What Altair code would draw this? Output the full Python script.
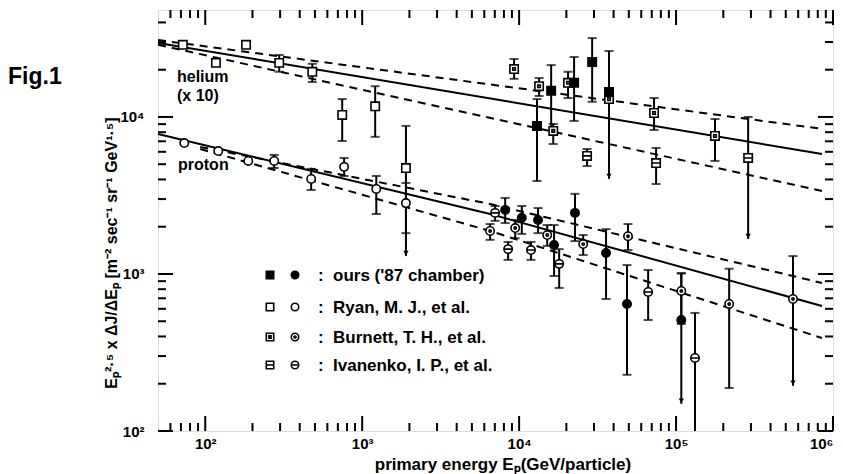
import altair as alt
import pandas as pd

# ---------------- data ----------------
# helium (x 10)
he_ryan_E = [72, 117, 182, 296, 481, 746, 1210, 1900]
he_ryan_y = [28800, 22100, 28800, 22100, 19400, 10300, 11700, 4730]
he_ryan_hi = [None, None, None, 24800, 21800, 13000, 15700, 8770]
he_ryan_lo = [None, None, None, 19400, 16700, 7030, 7470, 1300]
he_ryan_end = [0, 0, 0, 0, 0, 0, 0, 1]

he_ours_E = [13000, 16000, 22400, 29200, 37400]
he_ours_y = [8770, 14700, 16500, 22400, 14400]
he_ours_hi = [13000, 21400, 24100, 31800, 26300]
he_ours_lo = [3910, 8770, 9440, 12500, 13000]
he_ours_end = [0, 2, 0, 0, 2]

he_burn_E = [9290, 13400, 16500, 20500, 37400, 72400, 177000]
he_burn_y = [20200, 15700, 8150, 16500, 13000, 10600, 7570]
he_burn_hi = [23400, 17700, 9020, 19400, 13000, 13200, 9700]
he_burn_lo = [17500, 13600, 6730, 13200, 4030, 8270, 5250]
he_burn_end = [0, 0, 0, 0, 1, 0, 0]

he_ivan_E = [27100, 74600, 288000]
he_ivan_y = [5650, 5090, 5480]
he_ivan_hi = [6250, 6350, 10000]
he_ivan_lo = [4870, 3740, 1670]
he_ivan_end = [0, 0, 1]

# proton
p_ryan_E = [73.5, 121, 188, 275, 473, 767, 1230, 1900]
p_ryan_y = [6820, 6070, 5250, 5250, 4030, 4810, 3480, 2830]
p_ryan_hi = [None, None, None, 5730, 4670, 5480, 4210, 3800]
p_ryan_lo = [None, None, None, 4730, 3430, 4210, 2410, 1820]
p_ryan_end = [0, 0, 0, 0, 0, 0, 0, 0]

p_ours_E = [8150, 10400, 13200, 16700, 22700, 35800, 48700, 108000]
p_ours_y = [2560, 2280, 2210, 1530, 2450, 1360, 644, 509]
p_ours_hi = [3050, 2710, 2630, 2050, 3240, 1930, 1140, 1010]
p_ours_lo = [2110, 1800, 1820, 971, 1620, 693, 228, 149]
p_ours_end = [0, 0, 0, 0, 0, 0, 0, 1]

p_burn_E = [6530, 9440, 15100, 25600, 49400, 108000, 218000, 556000]
p_burn_y = [1880, 1960, 1770, 1550, 1740, 780, 644, 693]
p_burn_hi = [2080, 2210, 2050, 1770, 2080, 1010, 1080, 1300]
p_burn_lo = [1650, 1690, 1510, 1320, 1420, 481, 188, 194]
p_burn_end = [0, 0, 0, 0, 0, 0, 0, 1]

p_ivan_E = [7030, 8510, 11900, 18000, 66400, 132000]
p_ivan_y = [2450, 1440, 1420, 1160, 768, 292]
p_ivan_hi = [2710, 1600, 1600, 1440, 1060, 565]
p_ivan_lo = [2180, 1230, 1230, 815, 509, 100]
p_ivan_end = [0, 0, 0, 0, 0, 2]

# fitted spectra
he_line_E = [50, 851000]
he_fit = [29600, 5810]
he_up = [30900, 8400]
he_low = [28800, 3380]
p_line_E = [50, 6530, 851000]
p_fit = [7800, 2410, 625]
p_band_E = [93, 6530, 851000]
p_up = [6440, 2790, 877]
p_low = [6250, 1880, 391]

x_major = [100, 1000, 10000, 100000, 1000000]
y_major = [100, 1000, 10000]
legend_labels = ["ours ('87 chamber)", "Ryan, M. J., et al.",
                 "Burnett, T. H., et al.", "Ivanenko, I. P., et al."]

# ---------------- layout / style ----------------
W, H = 675, 421
FONT = "Liberation Sans"
SQ = "square"
CI = "circle"
SQ_DOT = "M-1,-1H1V1H-1Z M-0.3,-0.3H0.3V0.3H-0.3Z"
SQ_BAR = "M-1,-1H1V1H-1Z M-1,0H1"
CI_DOT = "M-1,0A1,1,0,1,1,1,0A1,1,0,1,1,-1,0Z M-0.28,0A0.28,0.28,0,1,1,0.28,0A0.28,0.28,0,1,1,-0.28,0Z"
CI_BAR = "M-1,0A1,1,0,1,1,1,0A1,1,0,1,1,-1,0Z M-1,0H1"

xs = alt.Scale(type="log", domain=[50, 1000000], nice=False)
ys = alt.Scale(type="log", domain=[100, 48000], nice=False)
sup = "['⁰','¹','²','³','⁴','⁵','⁶'][round(log(datum.value)/LN10)]"
X_AX = alt.Axis(values=x_major, labelExpr="'10' + " + sup, ticks=False, domain=False,
                grid=False, title=None, labelFlush=True, labelOverlap=False,
                labelPadding=5, labelFont=FONT, labelFontSize=15, labelFontWeight="bold",
                labelColor="black")
Y_AX = alt.Axis(values=y_major, labelExpr="'10' + " + sup, ticks=False, domain=False,
                grid=False, title=None, labelFlush=False, labelOverlap=False,
                labelPadding=14, labelFont=FONT, labelFontSize=15, labelFontWeight="bold",
                labelColor="black")

series = [
    ("he_ryan", he_ryan_E, he_ryan_y, he_ryan_hi, he_ryan_lo, he_ryan_end, SQ, "white"),
    ("he_burn", he_burn_E, he_burn_y, he_burn_hi, he_burn_lo, he_burn_end, SQ_DOT, "white"),
    ("he_ivan", he_ivan_E, he_ivan_y, he_ivan_hi, he_ivan_lo, he_ivan_end, SQ_BAR, "white"),
    ("he_ours", he_ours_E, he_ours_y, he_ours_hi, he_ours_lo, he_ours_end, SQ, "black"),
    ("p_ryan", p_ryan_E, p_ryan_y, p_ryan_hi, p_ryan_lo, p_ryan_end, CI, "white"),
    ("p_burn", p_burn_E, p_burn_y, p_burn_hi, p_burn_lo, p_burn_end, CI_DOT, "white"),
    ("p_ivan", p_ivan_E, p_ivan_y, p_ivan_hi, p_ivan_lo, p_ivan_end, CI_BAR, "white"),
    ("p_ours", p_ours_E, p_ours_y, p_ours_hi, p_ours_lo, p_ours_end, CI, "black"),
]

frames = []
for name, E, y, hi, lo, end, shp, fill in series:
    frames.append(pd.DataFrame({"s": name, "E": E, "y": y, "hi": hi, "lo": lo, "end": end}))
alld = pd.concat(frames, ignore_index=True)
err = alld.dropna(subset=["hi", "lo"]).copy()

X = lambda f: alt.X(f + ":Q", scale=xs, axis=X_AX)
Y = lambda f: alt.Y(f + ":Q", scale=ys, axis=Y_AX)

# fit lines
lines = pd.concat([
    pd.DataFrame({"g": "he_fit", "E": he_line_E, "v": he_fit, "d": "solid"}),
    pd.DataFrame({"g": "he_up", "E": he_line_E, "v": he_up, "d": "dash"}),
    pd.DataFrame({"g": "he_low", "E": he_line_E, "v": he_low, "d": "dash"}),
    pd.DataFrame({"g": "p_fit", "E": p_line_E, "v": p_fit, "d": "solid"}),
    pd.DataFrame({"g": "p_up", "E": p_band_E, "v": p_up, "d": "dash"}),
    pd.DataFrame({"g": "p_low", "E": p_band_E, "v": p_low, "d": "dash"}),
], ignore_index=True)

solid = alt.Chart(lines[lines.d == "solid"]).mark_line(color="black", strokeWidth=2).encode(
    x=X("E"), y=Y("v"), detail="g:N")
dashed = alt.Chart(lines[lines.d == "dash"]).mark_line(
    color="black", strokeWidth=2, strokeDash=[8, 6]).encode(x=X("E"), y=Y("v"), detail="g:N")

bars = alt.Chart(err).mark_rule(color="black", strokeWidth=2).encode(
    x=X("E"), y=Y("lo"), y2="hi:Q")
topcap = alt.Chart(err).mark_tick(orient="horizontal", color="black", size=9, thickness=2).encode(
    x=X("E"), y=Y("hi"))
botcap = alt.Chart(err[err.end == 0]).mark_tick(orient="horizontal", color="black", size=9,
                                               thickness=2).encode(x=X("E"), y=Y("lo"))
arrows = alt.Chart(err[err.end == 1]).mark_point(shape="triangle-down", filled=True, color="black",
                                                 size=28, opacity=1, yOffset=-3).encode(
    x=X("E"), y=Y("lo"))

pts = []
for name, E, y, hi, lo, end, shp, fill in series:
    pts.append(alt.Chart(alld[alld.s == name]).mark_point(
        shape=shp, size=70, fill=fill, stroke="black", strokeWidth=1.6, opacity=1,
        fillOpacity=1).encode(x=X("E"), y=Y("y")))

# inward ticks on all four sides
def minors(lo_exp, hi_exp, vmin, vmax):
    out = []
    for k in range(lo_exp, hi_exp + 1):
        for m in range(2, 10):
            v = m * 10 ** k
            if vmin < v < vmax:
                out.append(v)
    return out

x_minor = minors(1, 5, 50, 1000000)
y_minor = minors(2, 4, 100, 48000)
tick_layers = []
for vals, ln in ((x_major, 15), (x_minor, 8)):
    d = pd.DataFrame({"v": vals})
    tick_layers.append(alt.Chart(d).mark_rule(color="black", strokeWidth=2).encode(
        x=X("v"), y=alt.value(H), y2=alt.value(H - ln)))
    tick_layers.append(alt.Chart(d).mark_rule(color="black", strokeWidth=2).encode(
        x=X("v"), y=alt.value(0), y2=alt.value(ln)))
for vals, ln in ((y_major, 15), (y_minor, 8)):
    d = pd.DataFrame({"v": vals})
    tick_layers.append(alt.Chart(d).mark_rule(color="black", strokeWidth=2).encode(
        y=Y("v"), x=alt.value(0), x2=alt.value(ln)))
    tick_layers.append(alt.Chart(d).mark_rule(color="black", strokeWidth=2).encode(
        y=Y("v"), x=alt.value(W), x2=alt.value(W - ln)))

one = pd.DataFrame({"a": [0]})


def txt(s, x, y, size=17, align="left", angle=0, weight="bold", baseline="alphabetic"):
    kw = dict(text=s, align=align, baseline=baseline, font=FONT, fontSize=size,
              fontWeight=weight, color="black")
    if angle:
        kw["angle"] = angle
    return alt.Chart(one).mark_text(**kw).encode(x=alt.value(x), y=alt.value(y))


texts = [
    txt("Fig.1", -150, 74, size=23),
    txt("helium", 19, 72, size=16),
    txt("(x 10)", 19, 91, size=16),
    txt("proton", 20, 160, size=16),
    txt("primary energy  Eₚ(GeV/particle)", 345, 460, size=17, align="center"),
    txt("Eₚ²·⁵ x ΔJ/ΔEₚ [m⁻² sec⁻¹ sr⁻¹ GeV¹·⁵]", -46, 243, size=16, align="center",
        angle=270, baseline="middle"),
]

# legend
leg_rows = [265, 297, 327, 355]
leg_sq = [(SQ, "black"), (SQ, "white"), (SQ_DOT, "white"), (SQ_BAR, "white")]
leg_ci = [(CI, "black"), (CI, "white"), (CI_DOT, "white"), (CI_BAR, "white")]
legend = []
for i, yy in enumerate(leg_rows):
    for (shp, fill), xx in ((leg_sq[i], 112), (leg_ci[i], 137)):
        legend.append(alt.Chart(one).mark_point(
            shape=shp, size=55, fill=fill, stroke="black", strokeWidth=1.6, opacity=1,
            fillOpacity=1).encode(x=alt.value(xx), y=alt.value(yy)))
    legend.append(txt(":", 160, yy + 6, size=17))
    legend.append(txt(legend_labels[i], 175, yy + 6, size=17))

chart = alt.layer(
    solid, dashed, bars, topcap, botcap, arrows, *pts, *tick_layers, *texts, *legend
).properties(
    width=W, height=H,
    autosize=alt.AutoSizeParams(type="none"),
    padding={"left": 158, "top": 10, "right": 10, "bottom": 43},
).configure_view(stroke="black", strokeWidth=2.5).configure(background="white")

chart.save("out.html", embed_options={"renderer": "svg", "actions": False})
